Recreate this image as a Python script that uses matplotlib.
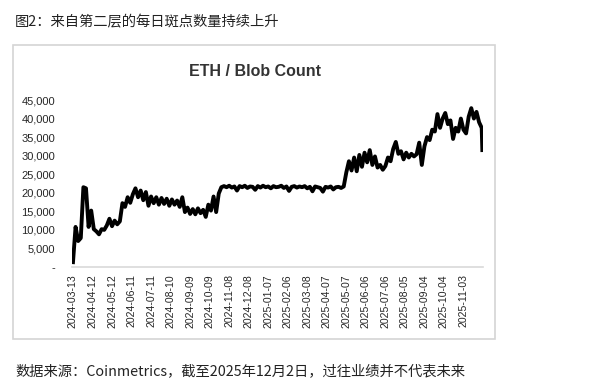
import matplotlib
matplotlib.use("Agg")
import matplotlib.pyplot as plt
from matplotlib.patches import Rectangle
from matplotlib.ticker import FuncFormatter
import datetime as dt

plt.rcParams['font.family'] = ['Liberation Sans', 'Noto Sans CJK SC', 'DejaVu Sans']

# ---- data (~4-day samples) ----
start_date = "2024-03-13"
step_days = 4
end_date = "2025-12-02"
blob_count = [
    1300, 10800, 7000, 7800, 21500, 21200, 10800, 15200, 10200, 9600,
    8800, 10200, 10000, 11200, 13000, 11000, 12500, 11500, 12300, 17200,
    16200, 18800, 17300, 19600, 21200, 18800, 20600, 18000, 20200, 16500,
    19000, 17200, 18800, 16800, 18600, 17000, 18400, 16500, 18200, 16800,
    17900, 16200, 18800, 14800, 16000, 14300, 15600, 14200, 15800, 14500,
    15400, 13500, 16800, 15200, 19000, 14800, 19800, 21500,
    21800, 21500, 21900, 21400, 21700, 20600, 21800, 21500, 21900, 21300,
    21700, 21600, 20800, 21800, 21400, 21900, 21500, 21700, 21200, 21800,
    21500, 21600, 21900, 21300, 21700, 20500, 21600, 21800, 21400, 21700,
    21500, 21800, 21200, 21600, 20400, 21700, 21500, 21300, 20300, 21600,
    21400, 21700, 20900, 21500, 21600, 21300, 21700,
    25500, 28500, 26000, 29500, 25800, 30200, 27000, 30800, 28200, 31500,
    27500, 29800, 26800, 27500, 26200, 27200, 29500, 28500, 31800, 33700,
    30500, 31200, 29000, 30800, 29500, 30500, 29800, 30400, 33500, 27500,
    32500, 35000, 34200, 37000, 36500, 41200, 37500, 40000, 41500, 38500,
    39500, 34500, 37500, 36500, 40000, 37000, 36000, 40500, 42800, 40000,
    41800, 39000, 37500,
]
last_value = 31500

tick_dates = ["2024-03-13", "2024-04-12", "2024-05-12", "2024-06-11", "2024-07-11",
              "2024-08-10", "2024-09-09", "2024-10-09", "2024-11-08", "2024-12-08",
              "2025-01-07", "2025-02-06", "2025-03-08", "2025-04-07", "2025-05-07",
              "2025-06-06", "2025-07-06", "2025-08-05", "2025-09-04", "2025-10-04",
              "2025-11-03"]
y_ticks = [0, 5000, 10000, 15000, 20000, 25000, 30000, 35000, 40000, 45000]

title_text = "图2：来自第二层的每日斑点数量持续上升"
chart_title = "ETH / Blob Count"
footer_text = "数据来源：Coinmetrics，截至2025年12月2日，过往业绩并不代表未来"

# ---- build series ----
d0 = dt.datetime.strptime(start_date, "%Y-%m-%d")
dates = [d0 + dt.timedelta(days=step_days * i) for i in range(len(blob_count))]
dates.append(dt.datetime.strptime(end_date, "%Y-%m-%d"))
values = blob_count + [last_value]

W, H = 600, 388
fig = plt.figure(figsize=(W / 100, H / 100), dpi=100)
fig.patch.set_facecolor("white")

# chart box border
bx0, by0, bx1, by1 = 13, 45, 495, 339
fig.add_artist(Rectangle((bx0 / W, 1 - by1 / H), (bx1 - bx0) / W, (by1 - by0) / H,
                         transform=fig.transFigure, fill=False,
                         edgecolor="#d4d4d4", linewidth=1.2))

ax_left, ax_right = 72, 483
y_zero = 267
y_top = 267 - 167 * 50 / 45
ax = fig.add_axes([ax_left / W, 1 - y_zero / H, (ax_right - ax_left) / W, (y_zero - y_top) / H])
ax.plot(dates, values, color="black", linewidth=2.8, solid_joinstyle="round")

ax.set_ylim(0, 50000)
ax.set_xlim(d0 - dt.timedelta(days=1.5), dt.datetime.strptime(end_date, "%Y-%m-%d") + dt.timedelta(days=1))
ax.set_yticks(y_ticks)
ax.yaxis.set_major_formatter(FuncFormatter(lambda v, p: "-" if v == 0 else f"{int(v):,}"))
ax.set_xticks([dt.datetime.strptime(t, "%Y-%m-%d") for t in tick_dates])
ax.set_xticklabels(tick_dates, rotation=90)
ax.tick_params(axis="both", length=0, labelcolor="#262626")
ax.tick_params(axis="x", pad=5, labelsize=7.6)
ax.tick_params(axis="y", pad=12, labelsize=8)
for s in ["top", "right", "left"]:
    ax.spines[s].set_visible(False)
ax.spines["bottom"].set_color("#d9d9d9")
ax.spines["bottom"].set_linewidth(1.2)
ax.set_facecolor("none")

fig.text(255 / W, 1 - 72 / H, chart_title, ha="center", va="center",
         fontsize=11.5, fontweight="bold", color="#333333")

fig.text(15 / W, 1 - 22 / H, title_text, ha="left", va="center",
         fontsize=10.3, color="#222222", family=['Noto Sans CJK SC', 'DejaVu Sans'])
fig.text(15 / W, 1 - 371 / H, footer_text, ha="left", va="center",
         fontsize=10.3, color="#222222", family=['Noto Sans CJK SC', 'DejaVu Sans'])

fig.savefig("out.png", dpi=100, facecolor="white")
